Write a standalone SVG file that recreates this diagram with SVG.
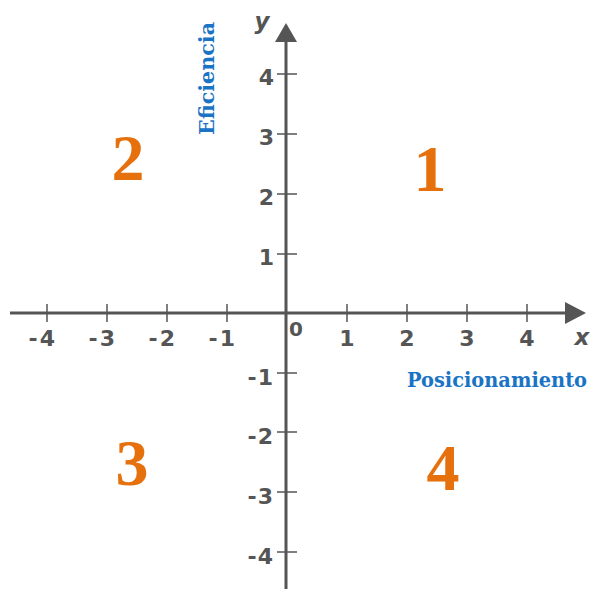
<svg xmlns="http://www.w3.org/2000/svg" width="593" height="589" viewBox="0 0 593 589">
<style>
.axis{stroke:#555;stroke-width:3;fill:none}
.tick{stroke:#555;stroke-width:1.5}
.head{fill:#555}
.num{font-family:"DejaVu Sans",Verdana,sans-serif;font-weight:bold;font-size:22px;fill:#555}
.zero{font-size:20px}
.var{font-family:"DejaVu Sans",Verdana,sans-serif;font-weight:bold;font-style:italic;font-size:23px;fill:#555}
.lab{font-family:"DejaVu Serif",serif;font-weight:bold;font-size:20px;fill:#1a73c4}
.q{font-family:"Liberation Serif","Times New Roman",serif;font-weight:bold;font-size:66px;fill:#e5700c;text-anchor:middle}
</style>
<rect width="593" height="589" fill="#fff"/>
<g id="connectors">
<line class="axis" x1="10" y1="313" x2="567" y2="313"/>
<polygon class="head" points="565,302 586,313 565,324"/>
<line class="axis" x1="286" y1="589" x2="286" y2="40"/>
<polygon class="head" points="275,42 286,23 297,42"/>
<g id="xticks">
<line class="tick" x1="47" y1="304" x2="47" y2="322"/>
<line class="tick" x1="107" y1="304" x2="107" y2="322"/>
<line class="tick" x1="167" y1="304" x2="167" y2="322"/>
<line class="tick" x1="227" y1="304" x2="227" y2="322"/>
<line class="tick" x1="347" y1="304" x2="347" y2="322"/>
<line class="tick" x1="407" y1="304" x2="407" y2="322"/>
<line class="tick" x1="467" y1="304" x2="467" y2="322"/>
<line class="tick" x1="527" y1="304" x2="527" y2="322"/>
</g>
<g id="yticks">
<line class="tick" x1="277" y1="74" x2="297" y2="74"/>
<line class="tick" x1="277" y1="134" x2="297" y2="134"/>
<line class="tick" x1="277" y1="194" x2="297" y2="194"/>
<line class="tick" x1="277" y1="254" x2="297" y2="254"/>
<line class="tick" x1="277" y1="373" x2="297" y2="373"/>
<line class="tick" x1="277" y1="432" x2="297" y2="432"/>
<line class="tick" x1="277" y1="492" x2="297" y2="492"/>
<line class="tick" x1="277" y1="552" x2="297" y2="552"/>
</g>
</g>
<g id="xlabels" class="num">
<text x="57" y="346" text-anchor="end" letter-spacing="2">-4</text>
<text x="117" y="346" text-anchor="end" letter-spacing="2">-3</text>
<text x="177" y="346" text-anchor="end" letter-spacing="2">-2</text>
<text x="237" y="346" text-anchor="end" letter-spacing="2">-1</text>
<text class="zero" x="296" y="336" text-anchor="middle">0</text>
<text x="347" y="346" text-anchor="middle">1</text>
<text x="407" y="346" text-anchor="middle">2</text>
<text x="467" y="346" text-anchor="middle">3</text>
<text x="527" y="346" text-anchor="middle">4</text>
</g>
<g id="ylabels" class="num" text-anchor="end">
<text x="274" y="85">4</text>
<text x="274" y="145">3</text>
<text x="274" y="205">2</text>
<text x="274" y="265">1</text>
<text x="274" y="385" letter-spacing="1">-1</text>
<text x="274" y="444" letter-spacing="1">-2</text>
<text x="274" y="504" letter-spacing="1">-3</text>
<text x="274" y="564" letter-spacing="1">-4</text>
</g>
<g id="axis-names">
<text class="var" x="262" y="29" text-anchor="middle">y</text>
<text class="var" x="582" y="345" text-anchor="middle">x</text>
</g>
<g id="eficiencia">
<text class="lab" transform="translate(214,78.5) rotate(-90)" text-anchor="middle" textLength="113" lengthAdjust="spacingAndGlyphs">Eficiencia</text>
</g>
<g id="posicionamiento">
<text class="lab" x="407" y="387" textLength="180" lengthAdjust="spacingAndGlyphs">Posicionamiento</text>
</g>
<g id="quadrant-1"><text class="q" x="430" y="191">1</text></g>
<g id="quadrant-2"><text class="q" x="128" y="180">2</text></g>
<g id="quadrant-3"><text class="q" x="132" y="485">3</text></g>
<g id="quadrant-4"><text class="q" x="443" y="490">4</text></g>
</svg>
